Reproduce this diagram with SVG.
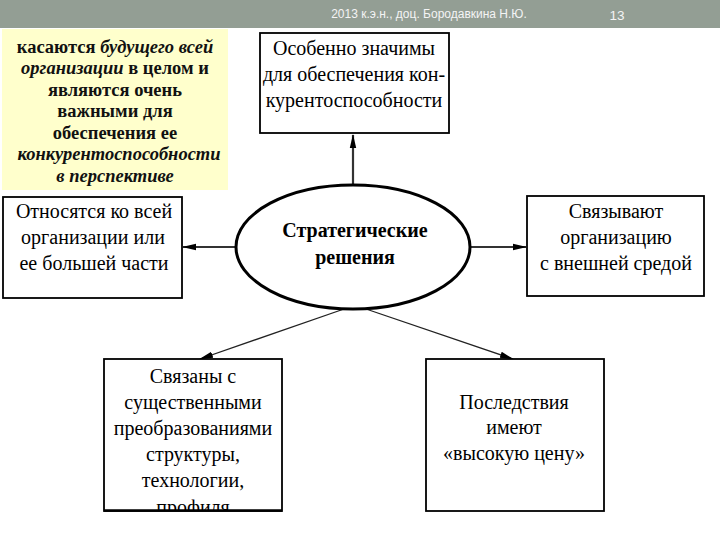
<svg xmlns="http://www.w3.org/2000/svg" width="720" height="540" viewBox="0 0 720 540">
<style>
.box{fill:#fff;stroke:#000;stroke-width:1.8}
.t{font-family:"Liberation Serif","Times New Roman",serif;font-size:20px;fill:#000;text-anchor:middle}
.y{font-family:"Liberation Serif","Times New Roman",serif;font-size:18.5px;font-weight:bold;fill:#111;text-anchor:middle}
.hd{font-family:"Liberation Sans",Arial,sans-serif;fill:#f4f4f4}
.thick{stroke:#333;stroke-width:2.2;fill:none}
.thin{stroke:#222;stroke-width:1.3;fill:none}
</style>
<defs>
<marker id="ah" viewBox="0 0 14 8" refX="13" refY="4" markerWidth="14" markerHeight="8" markerUnits="userSpaceOnUse" orient="auto">
<path d="M0,0.8 L14,4 L0,7.2 Z" fill="#000"/>
</marker>
<clipPath id="clipBL"><rect x="104" y="360" width="178" height="150"/></clipPath>
</defs>
<rect width="720" height="540" fill="#fff"/>
<g id="header">
<rect x="0" y="0" width="720" height="28" fill="#939e94"/>
<text class="hd" x="429" y="18" font-size="12" text-anchor="middle">2013  к.э.н., доц. Бородавкина Н.Ю.</text>
<text class="hd" x="617" y="20" font-size="13.5" text-anchor="middle">13</text>
</g>
<g id="note">
<rect x="2" y="29" width="226" height="161" fill="#ffffcc"/>
<text class="y" x="115" y="53">касаются <tspan font-style="italic">будущего всей</tspan></text>
<text class="y" x="115" y="74"><tspan font-style="italic">организации</tspan> в целом и</text>
<text class="y" x="115" y="96">являются очень</text>
<text class="y" x="115" y="117">важными для</text>
<text class="y" x="115" y="139">обеспечения ее</text>
<text class="y" x="119" y="160" font-style="italic">конкурентоспособности</text>
<text class="y" x="115" y="182" font-style="italic">в перспективе</text>
</g>
<g id="connectors">
<line class="thick" x1="353" y1="185" x2="353" y2="135" marker-end="url(#ah)"/>
<line class="thick" x1="236" y1="247" x2="183" y2="247" marker-end="url(#ah)"/>
<line class="thick" x1="471" y1="247" x2="526" y2="247" marker-end="url(#ah)"/>
<line class="thin" x1="344" y1="309" x2="200" y2="359" marker-end="url(#ah)"/>
<line class="thin" x1="366" y1="309" x2="513" y2="359" marker-end="url(#ah)"/>
</g>
<g id="top">
<rect class="box" x="260" y="33" width="189" height="100"/>
<text class="t" x="354" y="55">Особенно значимы</text>
<text class="t" x="354" y="81">для обеспечения кон-</text>
<text class="t" x="354" y="107">курентоспособности</text>
</g>
<g id="center">
<ellipse cx="353" cy="247" rx="117" ry="62" fill="#fff" stroke="#000" stroke-width="3"/>
<text class="t" x="355" y="237" font-size="19" font-weight="bold">Стратегические</text>
<text class="t" x="355" y="264" font-size="19" font-weight="bold">решения</text>
</g>
<g id="left">
<rect class="box" x="3" y="197" width="179" height="101"/>
<text class="t" x="94" y="218">Относятся ко всей</text>
<text class="t" x="93" y="244">организации  или</text>
<text class="t" x="94" y="270">ее большей части</text>
</g>
<g id="right">
<rect class="box" x="527" y="196" width="177" height="100"/>
<text class="t" x="616" y="218">Связывают</text>
<text class="t" x="616" y="244">организацию</text>
<text class="t" x="616" y="270">с внешней  средой</text>
</g>
<g id="bottomleft">
<rect class="box" x="104" y="359" width="178" height="152"/>
<g clip-path="url(#clipBL)">
<text class="t" x="193" y="383">Связаны  с</text>
<text class="t" x="193" y="409">существенными</text>
<text class="t" x="193" y="435">преобразованиями</text>
<text class="t" x="193" y="461">структуры,</text>
<text class="t" x="193" y="487">технологии,</text>
<text class="t" x="193" y="514">профиля</text>
</g>
<line x1="104" y1="510.5" x2="282" y2="510.5" stroke="#000" stroke-width="2.5"/>
</g>
<g id="bottomright">
<rect class="box" x="426" y="359" width="178" height="152"/>
<text class="t" x="514" y="409">Последствия</text>
<text class="t" x="514" y="434">имеют</text>
<text class="t" x="514" y="460">«высокую цену»</text>
</g>
</svg>
